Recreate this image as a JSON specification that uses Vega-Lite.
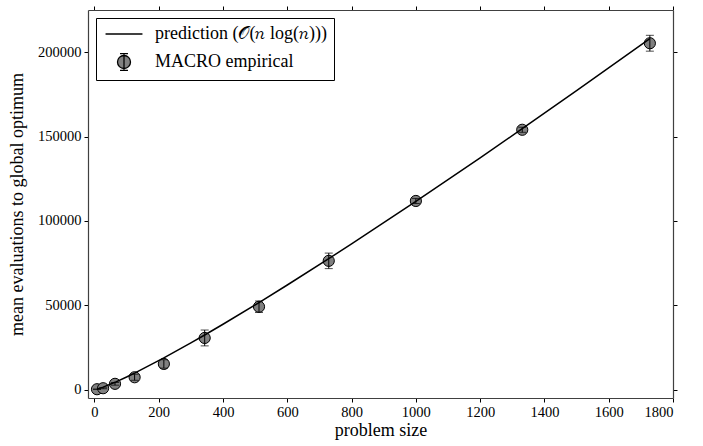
{
  "$schema": "https://vega.github.io/schema/vega-lite/v6.json",
  "width": 585,
  "height": 388,
  "autosize": {"type": "none"},
  "padding": {"left": 88, "top": 10, "right": 30, "bottom": 48},
  "background": "white",
  "datasets": {
    "emp": [
      {"n": 8, "mean": 200, "err": 100, "series": "MACRO empirical"},
      {"n": 27, "mean": 800, "err": 300, "series": "MACRO empirical"},
      {"n": 64, "mean": 3400, "err": 800, "series": "MACRO empirical"},
      {"n": 125, "mean": 7300, "err": 1800, "series": "MACRO empirical"},
      {"n": 216, "mean": 15200, "err": 2500, "series": "MACRO empirical"},
      {"n": 343, "mean": 30600, "err": 4700, "series": "MACRO empirical"},
      {"n": 512, "mean": 49100, "err": 3400, "series": "MACRO empirical"},
      {"n": 729, "mean": 76300, "err": 4600, "series": "MACRO empirical"},
      {"n": 1000, "mean": 111800, "err": 1500, "series": "MACRO empirical"},
      {"n": 1331, "mean": 154000, "err": 1500, "series": "MACRO empirical"},
      {"n": 1728, "mean": 205300, "err": 4700, "series": "MACRO empirical"}
    ],
    "pred": [
      {"n": 8, "y": 269},
      {"n": 27, "y": 1437},
      {"n": 64, "y": 4299},
      {"n": 100, "y": 7437},
      {"n": 125, "y": 9747},
      {"n": 216, "y": 18752},
      {"n": 300, "y": 27635},
      {"n": 343, "y": 32338},
      {"n": 400, "y": 38705},
      {"n": 512, "y": 51583},
      {"n": 600, "y": 61986},
      {"n": 729, "y": 77607},
      {"n": 800, "y": 86365},
      {"n": 1000, "y": 111561},
      {"n": 1200, "y": 137406},
      {"n": 1331, "y": 154633},
      {"n": 1500, "y": 177162},
      {"n": 1728, "y": 208039}
    ]
  },
  "config": {
    "font": "Liberation Serif",
    "view": {"stroke": null},
    "axis": {
      "grid": false,
      "domainColor": "#404040",
      "domainWidth": 1.2,
      "tickColor": "#000",
      "tickSize": 4,
      "labelFont": "Liberation Serif",
      "labelFontSize": 14.5,
      "labelColor": "#000",
      "labelPadding": 3,
      "titleFont": "Liberation Serif",
      "titleFontSize": 18,
      "titleFontWeight": "normal",
      "titleColor": "#000"
    }
  },
  "layer": [
    {
      "data": {"name": "emp"},
      "mark": {"type": "point", "filled": true, "fill": "#808080", "stroke": "#000", "strokeWidth": 1.3, "size": 1, "opacity": 1},
      "encoding": {
        "x": {
          "field": "n", "type": "quantitative",
          "scale": {"domain": [-20, 1800], "nice": false, "zero": false},
          "axis": {"orient": "bottom", "values": [0, 200, 400, 600, 800, 1000, 1200, 1400, 1600, 1800], "format": "d", "title": "problem size", "titlePadding": 3}
        },
        "y": {
          "field": "mean", "type": "quantitative",
          "scale": {"domain": [-5000, 225000], "nice": false, "zero": false},
          "axis": {"orient": "left", "values": [0, 50000, 100000, 150000, 200000], "format": "d", "title": "mean evaluations to global optimum", "titlePadding": 11}
        },
        "shape": {
          "field": "series", "type": "nominal",
          "scale": {
            "domain": ["prediction (𝒪(𝑛 log(𝑛)))", "MACRO empirical"],
            "range": ["M-3.2,0H3.2", "M1.13,0A1.13,1.13 0 0,1 -1.13,0A1.13,1.13 0 0,1 1.13,0Z M0,-1.44V1.44 M-0.69,-1.44H0.69 M-0.69,1.44H0.69"]
          },
          "legend": {
            "title": null,
            "orient": "top-left",
            "offset": 8,
            "strokeColor": "#000",
            "fillColor": "#fff",
            "padding": 7,
            "labelFont": "Liberation Serif",
            "labelFontSize": 18,
            "labelColor": "#000",
            "labelLimit": 400,
            "symbolSize": 133,
            "symbolStrokeWidth": 1.3,
            "symbolOffset": 12,
            "labelOffset": 22,
            "rowPadding": 8
          }
        }
      }
    },
    {
      "data": {"name": "emp"},
      "mark": {"type": "point", "shape": "circle", "filled": true, "fill": "#808080", "stroke": "#000", "strokeWidth": 1, "size": 125, "opacity": 1},
      "encoding": {
        "x": {"field": "n", "type": "quantitative", "axis": null},
        "y": {"field": "mean", "type": "quantitative", "axis": null}
      }
    },
    {
      "data": {"name": "emp"},
      "mark": {"type": "errorbar", "ticks": {"size": 8, "color": "#000"}, "color": "#000", "thickness": 1},
      "encoding": {
        "x": {"field": "n", "type": "quantitative", "axis": null},
        "y": {"field": "mean", "type": "quantitative", "axis": null},
        "yError": {"field": "err"}
      }
    },
    {
      "data": {"name": "pred"},
      "mark": {"type": "line", "color": "#000", "strokeWidth": 1.5},
      "encoding": {
        "x": {"field": "n", "type": "quantitative", "axis": {"orient": "top", "labels": false, "title": null, "values": [0, 200, 400, 600, 800, 1000, 1200, 1400, 1600, 1800]}},
        "y": {"field": "y", "type": "quantitative", "axis": {"orient": "right", "labels": false, "title": null, "values": [0, 50000, 100000, 150000, 200000]}}
      }
    }
  ],
  "resolve": {"axis": {"x": "independent", "y": "independent"}}
}
